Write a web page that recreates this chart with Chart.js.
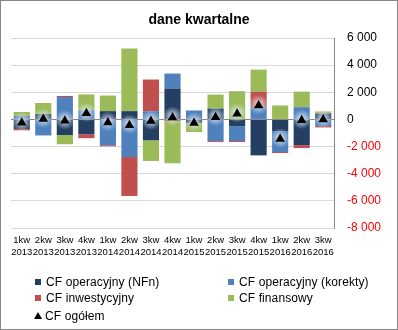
<!DOCTYPE html>
<html lang="pl">
<head>
<meta charset="utf-8">
<title>dane kwartalne</title>
<script src="https://cdn.jsdelivr.net/npm/chart.js@4/dist/chart.umd.min.js"></script>
<style>
    body { margin: 0; background: #fff; }
    #wykres { position: relative; width: 398px; height: 330px; font-family: "Liberation Sans", Arial, sans-serif; }
    #ramka { position: absolute; left: 0; top: 0; width: 396px; height: 328px; border: 1px solid #868686; pointer-events: none; }
    #tytul { position: absolute; left: 0; width: 398px; top: 11px; text-align: center; font-weight: bold; font-size: 14px; color: #000; }
    .leg { position: absolute; font-size: 12px; color: #000; white-space: nowrap; line-height: 14px; letter-spacing: 0.1px; }
    .kw { display: inline-block; width: 6px; height: 6px; margin-right: 5px; vertical-align: 1px; }
    .tr { display: inline-block; width: 0; height: 0; border-left: 4px solid transparent; border-right: 4px solid transparent; border-bottom: 7px solid #000; margin-right: 3px; vertical-align: 1px; }
</style>
</head>
<body>
<div id="wykres">
    <canvas id="cfChart" width="398" height="330"></canvas>
    <div id="tytul">dane kwartalne</div>
    <div class="leg" style="left:35px; top:275px;"><span class="kw" style="background:#243F62"></span>CF operacyjny (NFn)</div>
    <div class="leg" style="left:228px; top:275px;"><span class="kw" style="background:#4F81BD"></span>CF operacyjny (korekty)</div>
    <div class="leg" style="left:35px; top:291px;"><span class="kw" style="background:#C0504D"></span>CF inwestycyjny</div>
    <div class="leg" style="left:228px; top:291px;"><span class="kw" style="background:#9BBB59"></span>CF finansowy</div>
    <div class="leg" style="left:34px; top:309px;"><span class="tr"></span>CF ogółem</div>
    <div id="ramka"></div>
</div>
<script>
// Kwartały (etykiety osi X, dwie linie)
const kwartaly = [
    ['1kw', '2013'], ['2kw', '2013'], ['3kw', '2013'], ['4kw', '2013'],
    ['1kw', '2014'], ['2kw', '2014'], ['3kw', '2014'], ['4kw', '2014'],
    ['1kw', '2015'], ['2kw', '2015'], ['3kw', '2015'], ['4kw', '2015'],
    ['1kw', '2016'], ['2kw', '2016'], ['3kw', '2016']
];

// Przepływy pieniężne (tys. zł)
const cfNfn     = [-700, 400, -1150, -1100, 610, 610, -1540, 2280, -250, 800, -490, -2650, -860, -1890, 440];
const cfKorekty = [250, -1180, 1650, 680, -1900, -2770, 610, 1100, 660, -1600, -1100, 900, -1540, 900, -490];
const cfInwest  = [-100, 0, 80, -280, -80, -2870, 2330, -120, 0, -70, -75, 1150, -75, -220, -100];
const cfFinans  = [300, 810, -680, 1160, 1150, 4610, -1520, -3110, -680, 1030, 2080, 1620, 1030, 1150, 150];
const cfOgolem  = [-250, 30, -100, 460, -220, -420, -120, 150, -270, 160, 415, 1020, -1445, -60, 0];

// Zakres osi wartości
const osMin = -8000;
const osMax = 6000;
const osKrok = 2000;

function formatujLiczbe(v) {
    const s = Math.abs(v).toString().replace(/\B(?=(\d{3})+(?!\d))/g, ' ');
    return (v < 0 ? '-' : '') + s;
}

// Linia zera rysowana nad słupkami, potem poświata pod trójkątami
const poswiataPlugin = {
    id: 'poswiata',
    beforeDatasetDraw(chart, args) {
        if (args.index !== 4) return;
        const ctx = chart.ctx;
        const y0 = chart.scales.y.getPixelForValue(0);
        ctx.save();
        ctx.strokeStyle = '#868686';
        ctx.lineWidth = 1;
        ctx.beginPath();
        ctx.moveTo(chart.chartArea.left, Math.round(y0) + 0.5);
        ctx.lineTo(chart.chartArea.right, Math.round(y0) + 0.5);
        ctx.stroke();

        args.meta.data.forEach(pt => {
            const cy = pt.y - 1;
            const g = ctx.createRadialGradient(pt.x, cy, 1, pt.x, cy, 10);
            g.addColorStop(0, 'rgba(235,242,250,0.9)');
            g.addColorStop(0.5, 'rgba(220,232,245,0.45)');
            g.addColorStop(1, 'rgba(220,232,245,0)');
            ctx.fillStyle = g;
            ctx.beginPath();
            ctx.arc(pt.x, cy, 10, 0, Math.PI * 2);
            ctx.fill();
        });
        ctx.restore();
    }
};

function crearGrafica() {
    const ctx = document.getElementById('cfChart');

    new Chart(ctx, {
        type: 'bar',
        data: {
            labels: kwartaly,
            datasets: [
                { label: 'CF operacyjny (NFn)', data: cfNfn, backgroundColor: '#243F62', order: 1 },
                { label: 'CF operacyjny (korekty)', data: cfKorekty, backgroundColor: '#4F81BD', order: 1 },
                { label: 'CF inwestycyjny', data: cfInwest, backgroundColor: '#C0504D', order: 1 },
                { label: 'CF finansowy', data: cfFinans, backgroundColor: '#9BBB59', order: 1 },
                {
                    type: 'line',
                    label: 'CF ogółem',
                    data: cfOgolem,
                    showLine: false,
                    pointStyle: 'triangle',
                    pointRadius: 5.5,
                    pointBorderWidth: 0,
                    pointBackgroundColor: '#000',
                    pointBorderColor: '#000',
                    order: 0
                }
            ]
        },
        options: {
            responsive: false,
            animation: false,
            devicePixelRatio: 1,
            layout: { padding: { left: 11, right: 0, top: 38, bottom: 62 } },
            datasets: {
                bar: { categoryPercentage: 1, barPercentage: 0.75, borderWidth: 0 }
            },
            plugins: {
                legend: { display: false },
                tooltip: { enabled: false }
            },
            scales: {
                x: {
                    stacked: true,
                    grid: { display: false, drawTicks: false },
                    border: { display: false },
                    ticks: {
                        color: '#000',
                        font: { family: 'Liberation Sans', size: 9.5 },
                        padding: 7,
                        maxRotation: 0,
                        autoSkip: false
                    },
                    afterFit: scale => { scale.height = 40; }
                },
                y: {
                    stacked: true,
                    position: 'right',
                    min: osMin,
                    max: osMax,
                    grid: { color: '#D9D9D9', drawTicks: false },
                    border: { display: true, color: '#868686' },
                    ticks: {
                        stepSize: osKrok,
                        padding: 13,
                        font: { family: 'Liberation Sans', size: 12 },
                        color: c => (c.tick && c.tick.value < 0 ? '#FF0000' : '#000'),
                        callback: v => formatujLiczbe(v)
                    },
                    afterFit: scale => { scale.width = 64; }
                }
            }
        },
        plugins: [poswiataPlugin]
    });
}

document.addEventListener('DOMContentLoaded', crearGrafica);
</script>
</body>
</html>
